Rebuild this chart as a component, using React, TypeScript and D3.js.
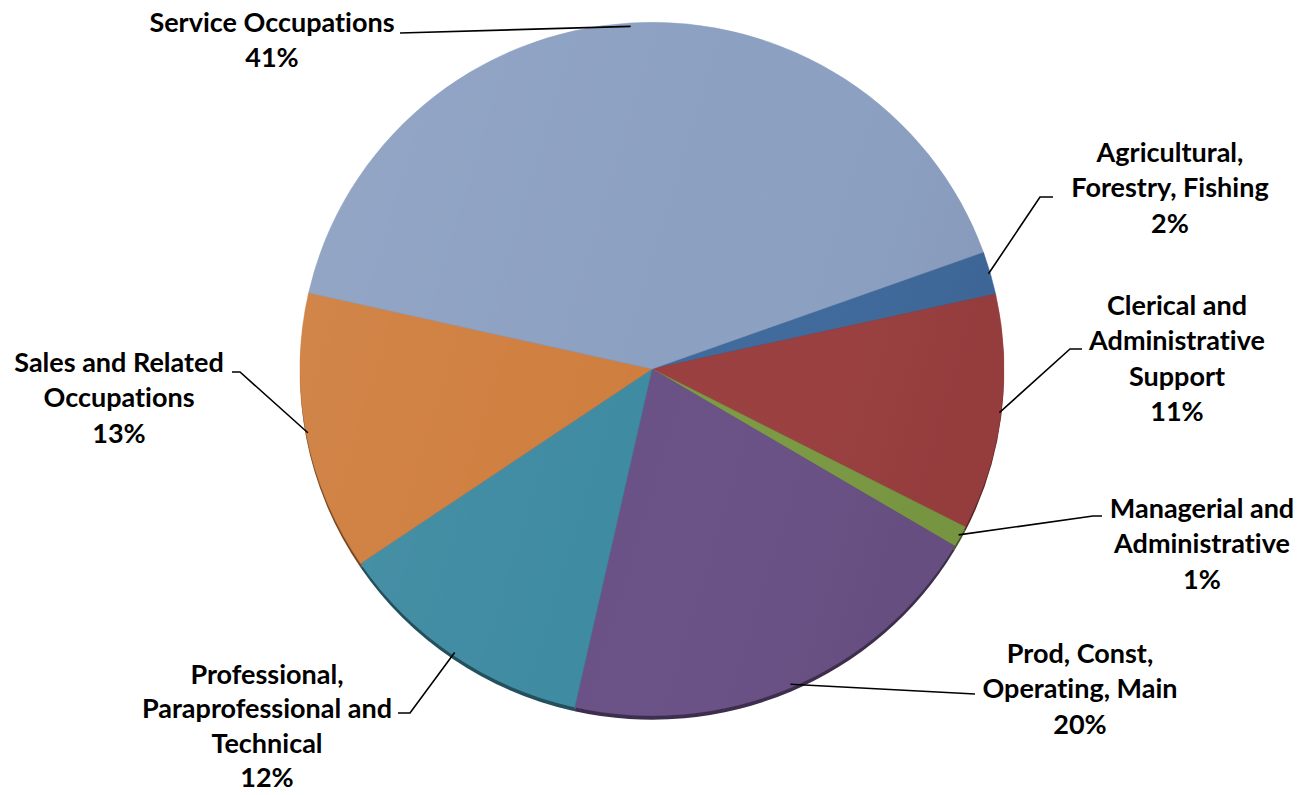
import React from "react";
import * as d3 from "d3";

const categories = [
  "Agricultural, Forestry, Fishing",
  "Clerical and Administrative Support",
  "Managerial and Administrative",
  "Prod, Const, Operating, Main",
  "Professional, Paraprofessional and Technical",
  "Sales and Related Occupations",
  "Service Occupations",
];
const values = [2, 11, 1, 20, 12, 13, 41];
const colors = ["#3F6A9C", "#9B3F40", "#7C9A44", "#6A5186", "#3F8BA2", "#CF7E3E", "#8CA0C2"];
const labelLines = [
  ["Agricultural,", "Forestry, Fishing", "2%"],
  ["Clerical and", "Administrative", "Support", "11%"],
  ["Managerial and", "Administrative", "1%"],
  ["Prod, Const,", "Operating, Main", "20%"],
  ["Professional,", "Paraprofessional and", "Technical", "12%"],
  ["Sales and Related", "Occupations", "13%"],
  ["Service Occupations", "41%"],
];

// layout
const W = 1314, H = 795;
const CX = 652, CY = 369, R = 352, SY = 0.985;
const START = (70.3 * Math.PI) / 180;
const labelPos = [
  { x: 1170, y: 152 },
  { x: 1177, y: 305 },
  { x: 1202, y: 508 },
  { x: 1080, y: 653 },
  { x: 267, y: 674 },
  { x: 119, y: 362 },
  { x: 272, y: 22 },
];
const LINE_H = 35.5;
const FONT = 27;
const leaderTail = [
  [[1040, 197], [1053, 197]],
  [[1070, 349], [1082, 349]],
  [[1093, 516], [1102, 516]],
  [[975, 694]],
  [[410, 713], [398, 713]],
  [[240, 372], [232, 372]],
  [[400, 33]],
];

export default function App() {
  const pie = d3.pie<number>().sort(null).value((d) => d).startAngle(START).endAngle(START + 2 * Math.PI);
  const arcs = pie(values);
  const arc = d3.arc<d3.PieArcDatum<number>>().innerRadius(0).outerRadius(R);
  const line = d3.line();

  return (
    <svg width={W} height={H} style={{ position: "absolute", left: 0, top: 0 }}>
      <defs>
        <linearGradient id="shade" x1="0" y1="0" x2="1" y2="0.3">
          <stop offset="0" stopColor="#fff" stopOpacity={0.07} />
          <stop offset="0.6" stopColor="#fff" stopOpacity={0} />
          <stop offset="1" stopColor="#000" stopOpacity={0.04} />
        </linearGradient>
      </defs>
      {/* 3D rim */}
      <g transform={`translate(${CX},${CY + 4}) scale(1,${SY})`}>
        {arcs.map((a, i) => (
          <path key={i} d={arc(a) || ""} fill={d3.color(colors[i])!.darker(1.6).formatHex()} />
        ))}
      </g>
      <g transform={`translate(${CX},${CY}) scale(1,${SY})`}>
        {arcs.map((a, i) => (
          <path key={i} d={arc(a) || ""} fill={colors[i]} stroke={colors[i]} strokeWidth={0.5} />
        ))}
        <circle r={R} fill="url(#shade)" />
      </g>
      {arcs.map((a, i) => {
        const mid = (a.startAngle + a.endAngle) / 2;
        const ex = CX + R * 0.995 * Math.sin(mid);
        const ey = CY - R * SY * 0.99 * Math.cos(mid);
        const pts: [number, number][] = [[ex, ey], ...(leaderTail[i] as [number, number][])];
        return <path key={"l" + i} d={line(pts) || ""} fill="none" stroke="#000" strokeWidth={1.6} />;
      })}
      {labelLines.map((lines, i) => {
        const lh = i === 4 ? 34.5 : LINE_H;
        return (
          <text
            key={"t" + i}
            textAnchor="middle"
            fontFamily="Lato, 'Open Sans', sans-serif"
            fontWeight="bold"
            fontSize={FONT}
            fill="#000"
            style={{ fontVariantLigatures: "none" }}
          >
            {lines.map((s, j) => (
              <tspan key={j} x={labelPos[i].x} y={labelPos[i].y + j * lh + 9.5}>
                {s}
              </tspan>
            ))}
          </text>
        );
      })}
    </svg>
  );
}
